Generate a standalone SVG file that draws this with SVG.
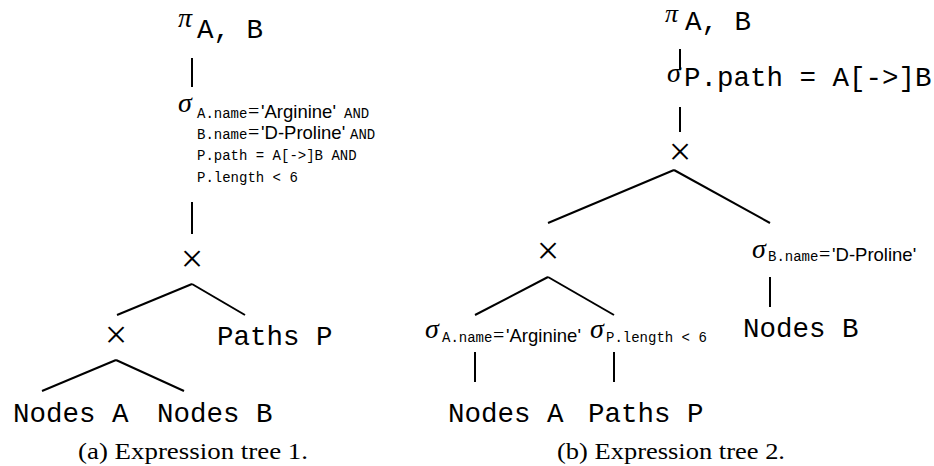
<svg xmlns="http://www.w3.org/2000/svg" width="934" height="466" viewBox="0 0 934 466">
<style>
.big{font-family:"Liberation Mono",monospace;font-size:27.5px;fill:#000;white-space:pre}
.sm{font-family:"Liberation Mono",monospace;font-size:14px;fill:#000;white-space:pre}
.ss{font-family:"Liberation Sans",sans-serif;font-size:18.5px;fill:#000}
.eq{font-family:"Liberation Serif",serif;font-size:20px;fill:#000}
.gr{font-family:"Liberation Serif",serif;font-style:italic;font-size:28px;fill:#000}
.op{font-family:"Liberation Serif",serif;font-size:40px;fill:#000;text-anchor:middle}
.cap{font-family:"Liberation Serif",serif;font-size:24px;fill:#000}
.ln{stroke:#000;stroke-width:2;fill:none}
</style>
<rect width="934" height="466" fill="#fff"/>
<g id="connectors" class="ln">
<line x1="192" y1="58" x2="192" y2="87"/>
<line x1="192" y1="202" x2="192" y2="234"/>
<line x1="192" y1="284" x2="117" y2="315"/>
<line x1="192" y1="284" x2="245" y2="315"/>
<line x1="116" y1="360" x2="42" y2="391"/>
<line x1="116" y1="360" x2="184" y2="391"/>
<line x1="680" y1="49" x2="680" y2="70"/>
<line x1="680" y1="107" x2="680" y2="132"/>
<line x1="674" y1="170" x2="548" y2="223"/>
<line x1="674" y1="170" x2="770" y2="223"/>
<line x1="770" y1="277" x2="770" y2="307"/>
<line x1="548" y1="277" x2="475" y2="315"/>
<line x1="548" y1="277" x2="614" y2="315"/>
<line x1="475" y1="352" x2="475" y2="382"/>
<line x1="614" y1="352" x2="614" y2="382"/>
</g>
<g id="a-proj">
<text class="gr" x="178" y="27">π</text>
<text class="big" x="197" y="38">A, B</text>
</g>
<g id="a-select">
<text class="gr" x="178" y="112">σ</text>
<text y="118"><tspan class="sm" x="197">A.name</tspan><tspan class="eq" x="248">=</tspan><tspan class="ss" x="261">'Arginine'</tspan><tspan class="sm" x="344">AND</tspan></text>
<text y="139"><tspan class="sm" x="197">B.name</tspan><tspan class="eq" x="248">=</tspan><tspan class="ss" x="261">'D-Proline'</tspan><tspan class="sm" x="350">AND</tspan></text>
<text class="sm" x="197" y="160">P.path = A[-&gt;]B AND</text>
<text class="sm" x="197" y="182">P.length &lt; 6</text>
</g>
<g id="a-cross1"><text class="op" x="192" y="272">×</text></g>
<g id="a-cross2"><text class="op" x="116" y="348">×</text></g>
<g id="a-paths"><text class="big" x="217" y="345">Paths P</text></g>
<g id="a-nodesA"><text class="big" x="13" y="422">Nodes A</text></g>
<g id="a-nodesB"><text class="big" x="157" y="422">Nodes B</text></g>
<g id="caption-a"><text class="cap" x="78" y="459" textLength="230" lengthAdjust="spacingAndGlyphs">(a) Expression tree 1.</text></g>

<g id="b-proj">
<text class="gr" x="665" y="22" style="font-size:26px">π</text>
<text class="big" x="685" y="30">A, B</text>
</g>
<g id="b-select-path">
<text class="gr" x="667" y="82">σ</text>
<text class="big" x="684" y="86">P.path = A[-&gt;]B</text>
</g>
<g id="b-cross1"><text class="op" x="680" y="165">×</text></g>
<g id="b-cross2"><text class="op" x="548" y="264">×</text></g>
<g id="b-selectB">
<text class="gr" x="752" y="258">σ</text>
<text y="261"><tspan class="sm" x="768">B.name</tspan><tspan class="eq" x="819">=</tspan><tspan class="ss" x="832">'D-Proline'</tspan></text>
</g>
<g id="b-nodesB"><text class="big" x="743" y="337">Nodes B</text></g>
<g id="b-selectA">
<text class="gr" x="425" y="338">σ</text>
<text y="342"><tspan class="sm" x="442">A.name</tspan><tspan class="eq" x="493">=</tspan><tspan class="ss" x="506">'Arginine'</tspan></text>
</g>
<g id="b-selectP">
<text class="gr" x="590" y="338">σ</text>
<text class="sm" x="606" y="342">P.length &lt; 6</text>
</g>
<g id="b-nodesA"><text class="big" x="448" y="422">Nodes A</text></g>
<g id="b-paths"><text class="big" x="588" y="422">Paths P</text></g>
<g id="caption-b"><text class="cap" x="557" y="459" textLength="228" lengthAdjust="spacingAndGlyphs">(b) Expression tree 2.</text></g>
</svg>
